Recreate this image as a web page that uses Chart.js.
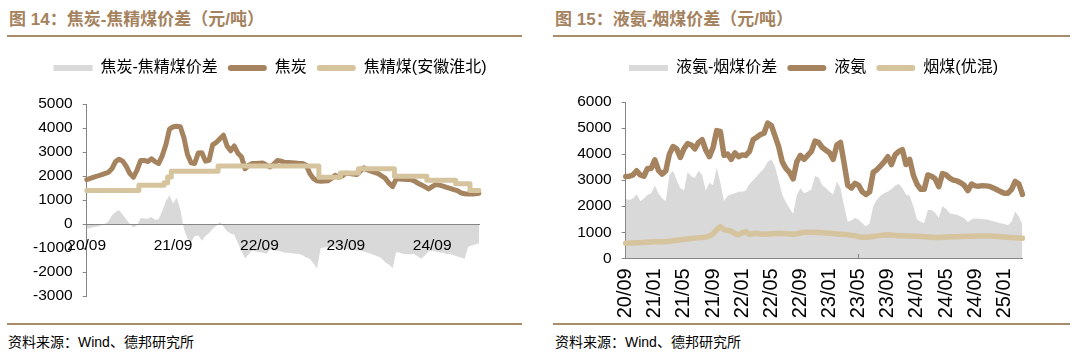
<!DOCTYPE html>
<html>
<head>
<meta charset="utf-8">
<script src="https://cdn.jsdelivr.net/npm/chart.js@4.4.1/dist/chart.umd.min.js"></script>
<style>
  body { margin: 0; width: 1080px; height: 354px; background: #fff; position: relative; overflow: hidden;
         font-family: "Liberation Sans", "Noto Sans CJK SC", sans-serif; }
  .title { position: absolute; top: 9px; font-size: 17px; font-weight: bold; color: #a5825e; line-height: 22px; white-space: nowrap; }
  .rule { position: absolute; height: 2px; background: #a88b6b; }
  .src { position: absolute; top: 333px; font-size: 14px; color: #000; line-height: 18px; white-space: nowrap; }
  .box { position: absolute; top: 40px; width: 540px; height: 280px; }
</style>
</head>
<body>
<div class="title" style="left:9px">图 14：焦炭-焦精煤价差（元/吨）</div>
<div class="rule" style="left:7px;width:515px;top:35px"></div>
<div class="box" style="left:0"><canvas id="cokeChart"></canvas></div>
<div class="rule" style="left:7px;width:515px;top:323px"></div>
<div class="src" style="left:8px">资料来源：Wind、德邦研究所</div>

<div class="title" style="left:555px">图 15：液氨-烟煤价差（元/吨）</div>
<div class="rule" style="left:553px;width:517px;top:35px"></div>
<div class="box" style="left:540px"><canvas id="ammoniaChart"></canvas></div>
<div class="rule" style="left:553px;width:517px;top:323px"></div>
<div class="src" style="left:555px">资料来源：Wind、德邦研究所</div>

<script>
// months 20/09 .. 25/03, two readings per month (first / second half)
const months = [
  '20/09','20/10','20/11','20/12',
  '21/01','21/02','21/03','21/04','21/05','21/06','21/07','21/08','21/09','21/10','21/11','21/12',
  '22/01','22/02','22/03','22/04','22/05','22/06','22/07','22/08','22/09','22/10','22/11','22/12',
  '23/01','23/02','23/03','23/04','23/05','23/06','23/07','23/08','23/09','23/10','23/11','23/12',
  '24/01','24/02','24/03','24/04','24/05','24/06','24/07','24/08','24/09','24/10','24/11','24/12',
  '25/01','25/02','25/03'
];
const labels = months.flatMap(m => [m, m]);

// 图14 焦炭 / 焦精煤 (元/吨)
const cokePrice = [
  1850,1900,1950,2000,2050,2100,2150,2300,2600,2700,
  2620,2400,2100,1950,2250,2650,2650,2600,2720,2600,
  2520,2850,3300,3950,4050,4070,4050,3600,2900,2550,
  2520,2960,2970,2620,2650,3300,3400,3550,3700,3250,
  3050,3250,2950,2800,2300,2450,2520,2520,2530,2540,
  2450,2380,2500,2650,2620,2560,2560,2550,2540,2520,
  2520,2450,2100,1900,1800,1780,1790,1800,1900,2030,
  1950,2000,2120,2100,2080,2060,2200,2340,2250,2200,
  2150,2100,2000,1900,1700,1560,1880,1870,1860,1850,
  1850,1800,1700,1630,1550,1460,1560,1640,1620,1580,
  1530,1480,1430,1390,1300,1260,1250,1245,1260,1280
];
const cokingCoal = [
  1400,1400,1400,1400,1400,1400,1400,1400,1400,1400,
  1400,1400,1400,1400,1400,1610,1610,1610,1610,1610,
  1610,1610,1720,1960,2200,2200,2200,2200,2200,2200,
  2200,2200,2200,2200,2200,2200,2200,2420,2420,2420,
  2420,2420,2420,2420,2420,2420,2420,2420,2420,2420,
  2420,2420,2420,2420,2420,2420,2420,2420,2420,2420,
  2420,2420,2420,2420,2420,1950,1950,1950,1950,1950,
  1950,2130,2130,2130,2130,2130,2300,2300,2300,2300,
  2300,2300,2300,2300,2300,2300,1990,1990,1990,1990,
  1990,1990,1990,1990,1990,1820,1820,1820,1820,1820,
  1820,1820,1820,1680,1680,1680,1680,1400,1400,1400
];
const cokeSpread = [
  -200,-170,-130,-100,-50,0,100,350,500,570,
  400,200,0,-150,-50,250,230,220,290,180,
  200,550,950,1200,850,1100,600,-200,-600,-750,
  -500,-480,-700,-500,-380,-200,-80,80,-100,-300,
  -400,-450,-800,-1100,-1450,-1250,-1100,-1150,-1170,-1200,
  -1240,-1050,-1100,-1100,-1150,-1200,-1200,-1220,-1240,-1250,
  -1300,-1400,-1450,-1650,-1850,-1000,-980,-970,-960,-970,
  -1000,-1020,-1050,-1060,-1080,-1100,-1100,-1150,-1200,-1250,
  -1300,-1350,-1450,-1600,-1700,-1830,-1170,-1200,-1250,-1250,
  -1260,-1250,-1350,-1450,-1300,-1150,-1100,-1150,-1180,-1200,
  -1250,-1250,-1300,-1350,-1400,-1450,-950,-900,-850,-800
];

// 图15 液氨 / 烟煤 (元/吨)
const ammoniaPrice = [
  3140,3150,3200,3360,3200,3150,3450,3450,3780,3380,
  3230,3350,4000,4290,4200,3870,4200,4400,4350,4200,
  4450,4550,4150,3900,4250,4900,4870,3950,4000,3800,
  4050,3900,3970,3950,4100,4550,4650,4750,4800,5190,
  5100,4700,4300,3700,3450,3300,3050,3700,3950,3800,
  3950,4100,4500,4450,4250,4150,4050,3800,4350,4450,
  3650,2800,2700,2880,2800,2550,2450,2550,3300,3400,
  3550,3700,3900,3600,3970,4100,4170,3600,3800,3200,
  2850,2650,2650,3200,3150,3050,2750,3250,3200,3080,
  3000,2970,2900,2800,2600,2850,2780,2770,2790,2780,
  2760,2700,2630,2560,2500,2500,2650,2950,2850,2450
];
const steamCoal = [
  580,585,590,595,600,610,620,630,640,640,
  640,640,650,670,690,710,730,745,760,775,
  790,800,820,850,940,1100,1220,1100,1070,1040,
  950,900,980,1020,920,950,960,930,920,930,
  940,950,960,950,940,930,920,940,970,1000,
  1000,1000,1000,990,980,970,960,950,930,920,
  910,900,880,860,830,810,810,820,840,860,
  880,890,900,890,880,870,870,860,860,850,
  850,840,830,820,810,800,800,810,820,830,
  830,830,840,840,850,850,860,860,860,860,
  860,850,840,830,820,810,800,790,780,770
];
const ammoniaSpread = [
  2280,2240,2300,2460,2200,2300,2440,2500,2790,2500,
  2300,2200,3200,3360,3000,2700,2600,3300,3150,3080,
  3360,3200,2600,2900,2800,3490,2900,2200,2400,2460,
  2500,2560,2550,2600,2850,3000,3150,3300,3450,3700,
  3800,3530,3000,2450,2150,1920,1700,2440,2690,2500,
  2550,2650,3150,3100,2800,2700,2550,2450,2950,2700,
  2000,1400,1450,1560,1480,1350,1220,1350,2000,2250,
  2400,2500,2560,2650,2790,2850,2700,2440,2400,2000,
  1500,1400,1350,1860,1850,1750,1550,2000,1900,1730,
  1700,1670,1600,1540,1380,1500,1530,1520,1510,1490,
  1460,1420,1380,1350,1320,1280,1400,1800,1600,1300
];

const AREA = '#d9d9d9';
const BROWN = '#a5835f';
const TAN = '#d6c49e';
const AXIS = '#858585';
const NUM_FONT = { family: '"Liberation Sans", Arial, sans-serif', size: 15.5 };
const CJK_FONT = { family: '"Liberation Sans", "Noto Sans CJK SC", sans-serif', size: 16 };

// extra room between legend and plot
const legendGap = {
  id: 'legendGap',
  beforeInit(chart, args, opts) {
    const fit = chart.legend.fit;
    chart.legend.fit = function () {
      fit.call(this);
      this.height += opts.gap || 0;
    };
  }
};

function legendItems(chart) {
  return chart.data.datasets.map((ds, i) => ({
    text: ds.label,
    fillStyle: ds.legendColor,
    strokeStyle: ds.legendColor,
    lineWidth: 0,
    borderRadius: ds.fill ? 0 : 3,
    hidden: false,
    datasetIndex: i
  }));
}

function buildChart(canvasId, cfg) {
  const tickEvery = cfg.tickMonths * 2;
  return new Chart(document.getElementById(canvasId), {
    type: 'line',
    data: {
      labels: labels,
      datasets: [
        { label: cfg.names[0], data: cfg.spread, fill: 'origin', backgroundColor: AREA, legendColor: AREA,
          borderColor: 'rgba(0,0,0,0)', borderWidth: 0, pointRadius: 0, order: 3 },
        { label: cfg.names[1], data: cfg.main, fill: false, borderColor: BROWN, legendColor: BROWN,
          borderWidth: cfg.lineWidth, pointRadius: 0, borderJoinStyle: 'round', borderCapStyle: 'round', order: 2 },
        { label: cfg.names[2], data: cfg.feed, fill: false, borderColor: TAN, legendColor: TAN,
          borderWidth: cfg.lineWidth, pointRadius: 0, borderJoinStyle: 'round', borderCapStyle: 'round',
          stepped: cfg.steppedFeed ? 'middle' : false, order: 1 }
      ]
    },
    options: {
      responsive: true,
      maintainAspectRatio: false,
      animation: false,
      layout: { padding: cfg.padding },
      plugins: {
        legendGap: { gap: cfg.gap },
        tooltip: { enabled: false },
        legend: {
          position: 'top',
          labels: { font: CJK_FONT, color: '#000', boxWidth: 39, boxHeight: 6, padding: 10,
                    generateLabels: legendItems }
        }
      },
      scales: {
        x: {
          type: 'category',
          position: { y: 0 },
          ticks: {
            z: 1,
            autoSkip: false, minRotation: cfg.rotation, maxRotation: cfg.rotation,
            font: cfg.xFont, color: '#000', padding: cfg.xPad,
            callback(value, index) { return index % tickEvery === 0 ? this.getLabelForValue(value) : null; }
          },
          grid: { z: 1, drawOnChartArea: false, tickLength: -5,
                  color: c => (c.index % tickEvery === 0 ? AXIS : 'rgba(0,0,0,0)') },
          border: { z: 1, color: AXIS, width: 1 }
        },
        y: {
          min: cfg.yMin, max: cfg.yMax,
          ticks: { stepSize: 1000, font: NUM_FONT, color: '#000', padding: 10, callback: v => String(v) },
          grid: { drawOnChartArea: false, tickLength: 4, color: AXIS },
          border: { color: AXIS, width: 1 },
          afterFit(scale) { scale.width = cfg.yWidth; }
        },
        // empty spacer on the right so the plot ends where the series end
        yR: {
          type: 'linear', position: 'right',
          ticks: { display: false }, grid: { display: false }, border: { display: false },
          afterFit(scale) { scale.width = cfg.rightGap; }
        }
      }
    },
    plugins: [legendGap]
  });
}

buildChart('cokeChart', {
  names: ['焦炭-焦精煤价差', '焦炭', '焦精煤(安徽淮北)'],
  spread: cokeSpread, main: cokePrice, feed: cokingCoal, steppedFeed: true,
  lineWidth: 5, yMin: -3000, yMax: 5000, tickMonths: 12, rotation: 0,
  xFont: NUM_FONT, xPad: 17, yWidth: 86.7, rightGap: 61,
  padding: { top: 10, left: 0, right: 0, bottom: 24 }, gap: 18
});

buildChart('ammoniaChart', {
  names: ['液氨-烟煤价差', '液氨', '烟煤(优混)'],
  spread: ammoniaSpread, main: ammoniaPrice, feed: steamCoal, steppedFeed: false,
  lineWidth: 5.5, yMin: 0, yMax: 6000, tickMonths: 4, rotation: 90,
  xFont: { family: '"Liberation Sans", Arial, sans-serif', size: 20 }, xPad: 15, yWidth: 78.7, rightGap: 57.5,
  padding: { top: 10, left: 7, right: 0, bottom: 61.7 }, gap: 16
});
</script>
</body>
</html>
